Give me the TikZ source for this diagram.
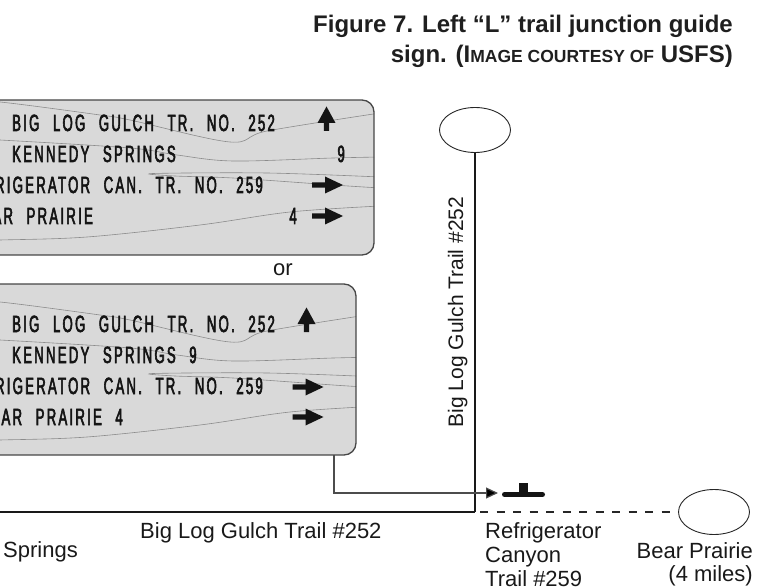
\documentclass[tikz,border=0pt]{standalone}
\usepackage{fontspec}
\setmainfont{Liberation Sans}
\newfontfamily\signfont[FakeStretch=0.56,LetterSpace=9.6,WordSpace=2.3,FakeBold=2.5]{Liberation Sans}
\usetikzlibrary{shapes.geometric,arrows.meta}

\tikzset{
  signbox/.style={draw=black!72, line width=1.3pt, rounded corners=12pt},
  signfill/.style={fill=black!15, rounded corners=12pt},
  grain/.style={draw=black!45, line width=0.6pt, smooth, tension=0.55},
  signtxt/.style={font=\signfont\fontsize{23.5}{23.5}\selectfont, text=black!92, inner sep=0pt},
  maplabel/.style={font=\fontsize{22}{24}\selectfont, inner sep=0pt, text=black!90},
  trail/.style={line width=1.5pt, draw=black!90},
  place/.style={draw=black!85, line width=0.9pt, ellipse, minimum width=71pt, minimum height=45pt, inner sep=0pt},
  pointer/.style={draw=black!70, line width=1.2pt, -{Triangle[length=12pt,width=11pt,fill=black]}},
  uparrow/.pic={\fill[black!92] (0,-12.5) -- (9,4) -- (2.7,4) -- (2.7,12) -- (-2.7,12) -- (-2.7,4) -- (-9,4) -- cycle;},
  rightarrow/.pic={\fill[black!92] (15.5,0) -- (-2.5,-8.5) -- (-2.5,-2.7) -- (-15.5,-2.7) -- (-15.5,2.7) -- (-2.5,2.7) -- (-2.5,8.5) -- cycle;}
}

% wood grain of a sign face (drawn in the frame of the upper sign)
\newcommand\woodgrain{%
  \draw[grain] plot coordinates {(-50,100) (0,102) (100,115) (130,120) (230,142) (267,131) (380,113)};
  \draw[grain] plot coordinates {(-50,138) (0,140) (130,148) (177,155) (233,161) (333,158) (380,157)};
  \draw[grain] plot coordinates {(380,177) (267,173) (153,173.5) (175,176) (233,178) (333,185) (380,188)};
  \draw[grain] plot coordinates {(380,206) (290,212) (200,225) (87,237) (0,240) (-50,241)};
}

\begin{document}
\begin{tikzpicture}[x=1pt,y=-1pt]
\useasboundingbox (0,0) rectangle (774,588);
\clip (0,0) rectangle (774,588);

% title
\node[anchor=base east, inner sep=0pt, font=\bfseries\fontsize{24}{28}\selectfont, text=black!88] (title1) at (733,33)
  {Figure 7. Left “L” trail junction guide};
\node[anchor=base east, inner sep=0pt, font=\bfseries\fontsize{24}{28}\selectfont, text=black!88] (title2) at (733,63)
  {sign. (I{\fontsize{17.5}{20}\selectfont MAGE COURTESY OF} USFS)};

% upper sign
\fill[signfill] (-40,100) rectangle (374,255);
\begin{scope}
  \clip[rounded corners=12pt] (-40,100) rectangle (374,255);
  \woodgrain
\end{scope}
\draw[signbox] (-40,100) rectangle (374,255);
\node[signtxt, anchor=base west] (a1) at (12,131) {BIG LOG GULCH TR. NO. 252};
\node[signtxt, anchor=base west] (a2) at (12,162) {KENNEDY SPRINGS};
\node[signtxt, anchor=base east] (a2n) at (345,162) {9};
\node[signtxt, anchor=base east] (a3) at (263,193) {REFRIGERATOR CAN. TR. NO. 259};
\node[signtxt, anchor=base east] (a4) at (93,224) {BEAR PRAIRIE};
\node[signtxt, anchor=base east] (a4n) at (297,224) {4};
\pic at (326.5,119) {uparrow};
\pic at (327.5,185) {rightarrow};
\pic at (327.5,216) {rightarrow};

\node[maplabel, anchor=base] (or) at (283,276) {or};

% lower sign
\fill[signfill] (-40,284) rectangle (356,455);
\begin{scope}[shift={(0,200)}]
  \clip[rounded corners=12pt] (-40,84) rectangle (356,255);
  \woodgrain
\end{scope}
\draw[signbox] (-40,284) rectangle (356,455);
\node[signtxt, anchor=base west] (b1) at (12,332) {BIG LOG GULCH TR. NO. 252};
\node[signtxt, anchor=base west] (b2) at (12,363) {KENNEDY SPRINGS 9};
\node[signtxt, anchor=base east] (b3) at (263,394) {REFRIGERATOR CAN. TR. NO. 259};
\node[signtxt, anchor=base east] (b4) at (123,425) {BEAR PRAIRIE 4};
\pic at (306.5,320) {uparrow};
\pic at (308,387) {rightarrow};
\pic at (308,417) {rightarrow};

% trail map
\node[place] (north) at (475,130) {};
\node[place] (bear) at (714,512) {};
\coordinate (junction) at (475,512);
\coordinate (westend) at (-5,512);
\draw[trail] (north.south) -- (junction);
\draw[trail, line width=1.3pt] (westend) -- (junction);
\draw[line width=1.1pt, draw=black!85, dash pattern=on 8pt off 8.5pt, dash phase=-5pt] (junction) -- (bear.west);

% sign post symbol at the junction
\coordinate (post) at (498,493);
\draw[line width=5pt, line cap=round, black!92] (504.5,494.5) -- (542.5,494.5);
\fill[black!92] (519,483) rectangle (528,495);

% leader from the lower sign to the post
\coordinate (signfoot) at (334,455);
\draw[pointer] (signfoot) |- (post);

% labels
\node[maplabel, rotate=90, anchor=base, font=\fontsize{21}{24}\selectfont] (vlab) at (463,312) {Big Log Gulch Trail \#252};
\node[maplabel, anchor=base west] (hlab) at (140,538) {Big Log Gulch Trail \#252};
\node[maplabel, anchor=base west] (spr) at (3,557) {Springs};
\node[maplabel, anchor=north west, align=left, font=\fontsize{22}{24}\selectfont] (refr) at (485,522) {Refrigerator\\Canyon\\Trail \#259};
\node[maplabel, anchor=north east, align=right, font=\fontsize{22}{23.5}\selectfont] (bplab) at (753,542) {Bear Prairie\\(4 miles)};
\end{tikzpicture}
\end{document}
